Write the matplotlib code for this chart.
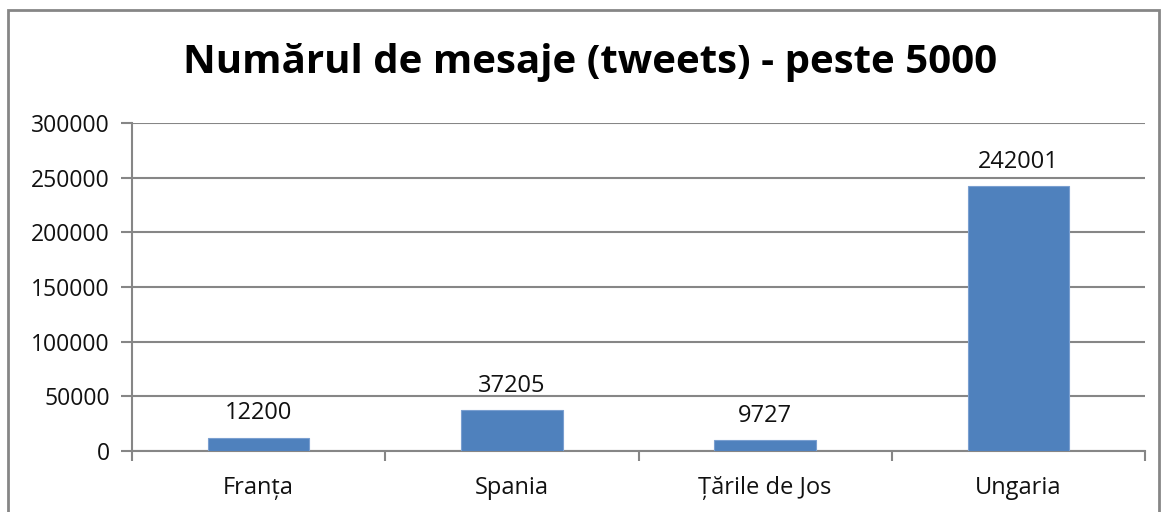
import numpy as np
import matplotlib
matplotlib.use("Agg")
import matplotlib.pyplot as plt
from matplotlib.patches import Rectangle

tari = ["Franța", "Spania", "Țările de Jos", "Ungaria"]
mesaje = [12200, 37205, 9727, 242001]
y_ticks = [0, 50000, 100000, 150000, 200000, 250000, 300000]

plt.rcParams['font.family'] = ['Open Sans', 'DejaVu Sans']

fig = plt.figure(figsize=(11.62, 5.12), dpi=100)
ax = fig.add_axes([132/1162, 1-451/512, (1145-132)/1162, (451-123)/512])

x = np.arange(len(tari))
bars = ax.bar(x, mesaje, width=0.4, color='#4F81BD', edgecolor='#7A9FD0', linewidth=0.8, zorder=3)
for b, v in zip(bars, mesaje):
    ax.annotate(str(v), (b.get_x() + b.get_width()/2, v), xytext=(0, 9),
                textcoords='offset points', ha='center', va='bottom', fontsize=17, color='#111111')

ax.set_xlim(-0.5, len(tari) - 0.5)
ax.set_ylim(0, 300000)
ax.set_yticks(y_ticks)
ax.set_yticklabels([str(t) for t in y_ticks], fontsize=16.5, color='#111111')
ax.set_xticks(x)
ax.set_xticklabels(tari, fontsize=17, color='#111111')
ax.set_xticks(np.arange(len(tari) + 1) - 0.5, minor=True)
ax.tick_params(axis='x', which='major', length=0, pad=18)
ax.tick_params(axis='x', which='minor', length=7, width=1.5, color='#868686', direction='out')
ax.tick_params(axis='y', length=8, width=1.5, color='#868686', pad=8)

ax.grid(axis='y', color='#868686', linewidth=1.5, zorder=0)
for s in ['top', 'right']:
    ax.spines[s].set_visible(False)
for s in ['left', 'bottom']:
    ax.spines[s].set_color('#868686')
    ax.spines[s].set_linewidth(1.5)

fig.text(0.508, 1-63/512, "Numărul de mesaje (tweets) - peste 5000", ha='center', va='center',
         fontsize=29, fontweight='bold')

fig.patches.append(Rectangle((8/1162, -0.1), (1159-8)/1162, 1.1-10/512,
                             transform=fig.transFigure, fill=False, edgecolor='#868686', linewidth=2))

plt.savefig('out.png', dpi=100)
